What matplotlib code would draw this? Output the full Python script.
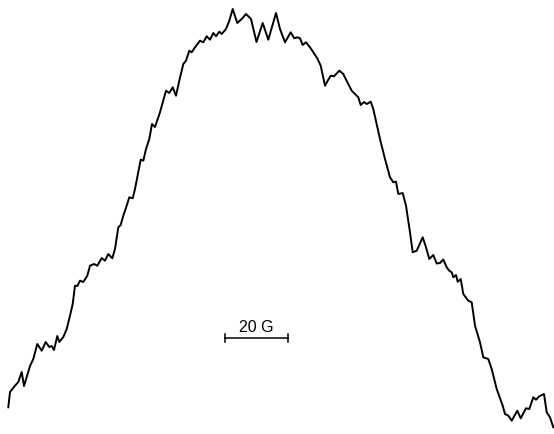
import matplotlib

matplotlib.use("Agg")

import matplotlib.pyplot as plt
import numpy as np

# trace (field position, signal), arbitrary units
FIELD = [
    8.3, 10, 15, 18.3, 21.7, 24, 26.7, 30, 33.3, 37.3, 41.7, 45.7, 49.3, 51.7, 54,
    57.3, 59.3, 63.3, 66.7, 70, 72.7, 75, 77.3, 80, 83.3, 87.3, 90, 94, 97.3, 101.7,
    105, 108.3, 112.3, 115, 118.3, 120.7, 123.3, 126.7, 129.3, 132.7, 135, 138.3,
    140.7, 143.3, 146, 149.3, 152, 155, 160, 166, 169.3, 172.7, 176, 179.3, 183.3,
    186, 189.3, 191.7, 195, 200, 203.3, 206.7, 210, 213.3, 216, 219.3, 221.7, 226,
    229.3, 232.7, 237.3, 241.7, 246, 251, 256.5, 262.7, 268.3, 276, 280, 285,
    290.7, 294.3, 297.3, 300, 302.7, 306, 310, 313.3, 317.3, 320.7, 325, 327.7,
    330.7, 334, 339.3, 343.3, 346.7, 351.7, 355, 358.3, 360.7, 364, 366.7, 370.7,
    373.3, 380, 385, 390, 393.3, 396, 398.3, 402.7, 406, 410, 412.7, 416.7, 422.7,
    426, 429.3, 433.3, 436.7, 440, 443.3, 446.7, 449.3, 451.7, 453.3, 456, 457.7,
    460.7, 463.3, 468.3, 471.7, 475, 480, 483.3, 488.3, 491.7, 496.7, 502.7, 505,
    508.3, 511.7, 517.3, 520.7, 526, 529.3, 533.3, 536, 539.3, 544, 546.7, 550,
    553.3,
]
DEPTH = [
    408.3, 393, 386.7, 383, 373, 387, 378, 367, 360, 345, 351.7, 343, 348, 347, 351,
    337, 343, 338, 330, 316.7, 305, 286.7, 287, 281.7, 283, 276.7, 266.7, 265,
    266.7, 259, 261.7, 255, 259.3, 250, 228.3, 226, 216.7, 206.7, 198.3, 199.3,
    190, 173.3, 160.7, 161.7, 150, 140, 125, 128, 113.3, 91.7, 94, 88.3, 96.7,
    81.7, 65, 61.7, 51.7, 53.3, 48.3, 41.7, 43.3, 37.3, 40.7, 34, 37.3, 32.7, 35,
    30, 21.7, 10, 24, 20, 15, 20, 43, 24, 40.7, 14, 30, 43.3, 33.3, 39.3, 38.3,
    39.3, 46, 43.3, 48.3, 53.3, 59.3, 66.7, 86.7, 81.7, 76.7, 77.3, 71.7, 75, 82,
    91.7, 95, 98.3, 106, 103, 105, 102.7, 110, 140, 160, 178.3, 183.3, 182.7, 195,
    194, 206.7, 233.3, 253.3, 251.7, 238.3, 248.3, 260, 256, 264.5, 264, 260.5,
    268.3, 271.7, 273.3, 278.3, 276, 282.7, 280, 295, 301.7, 303.3, 326.7, 343.3,
    358.3, 360, 370, 390, 406.7, 415, 416.7, 421.7, 411.7, 419.3, 409.3, 410,
    398.3, 400.7, 397.3, 395, 413.3, 418.3, 428.3,
]

HEIGHT = 435
SIGNAL = [HEIGHT - d for d in DEPTH]

# scale bar: 20 G
BAR_START = 225
BAR_LENGTH = 63
BAR_LEVEL = HEIGHT - 339.3
BAR_LABEL = "20 G"

fig = plt.figure(figsize=(5.54, 4.35), dpi=100)
ax = fig.add_axes([0, 0, 1, 1])
ax.plot(FIELD, SIGNAL, color="black", linewidth=1.4, solid_joinstyle="round")

bx = np.array([BAR_START, BAR_START + BAR_LENGTH])
ax.plot(bx, [BAR_LEVEL, BAR_LEVEL], color="black", linewidth=1.1)
for x in bx:
    ax.plot([x, x], [BAR_LEVEL - 4, BAR_LEVEL + 4], color="black", linewidth=1.1)
ax.text(bx.mean(), BAR_LEVEL + 4, BAR_LABEL, ha="center", va="bottom",
        fontsize=11.5, family="Liberation Sans")

ax.set_xlim(0, 554)
ax.set_ylim(0, HEIGHT)
ax.axis("off")
fig.savefig("out.png", dpi=100)
